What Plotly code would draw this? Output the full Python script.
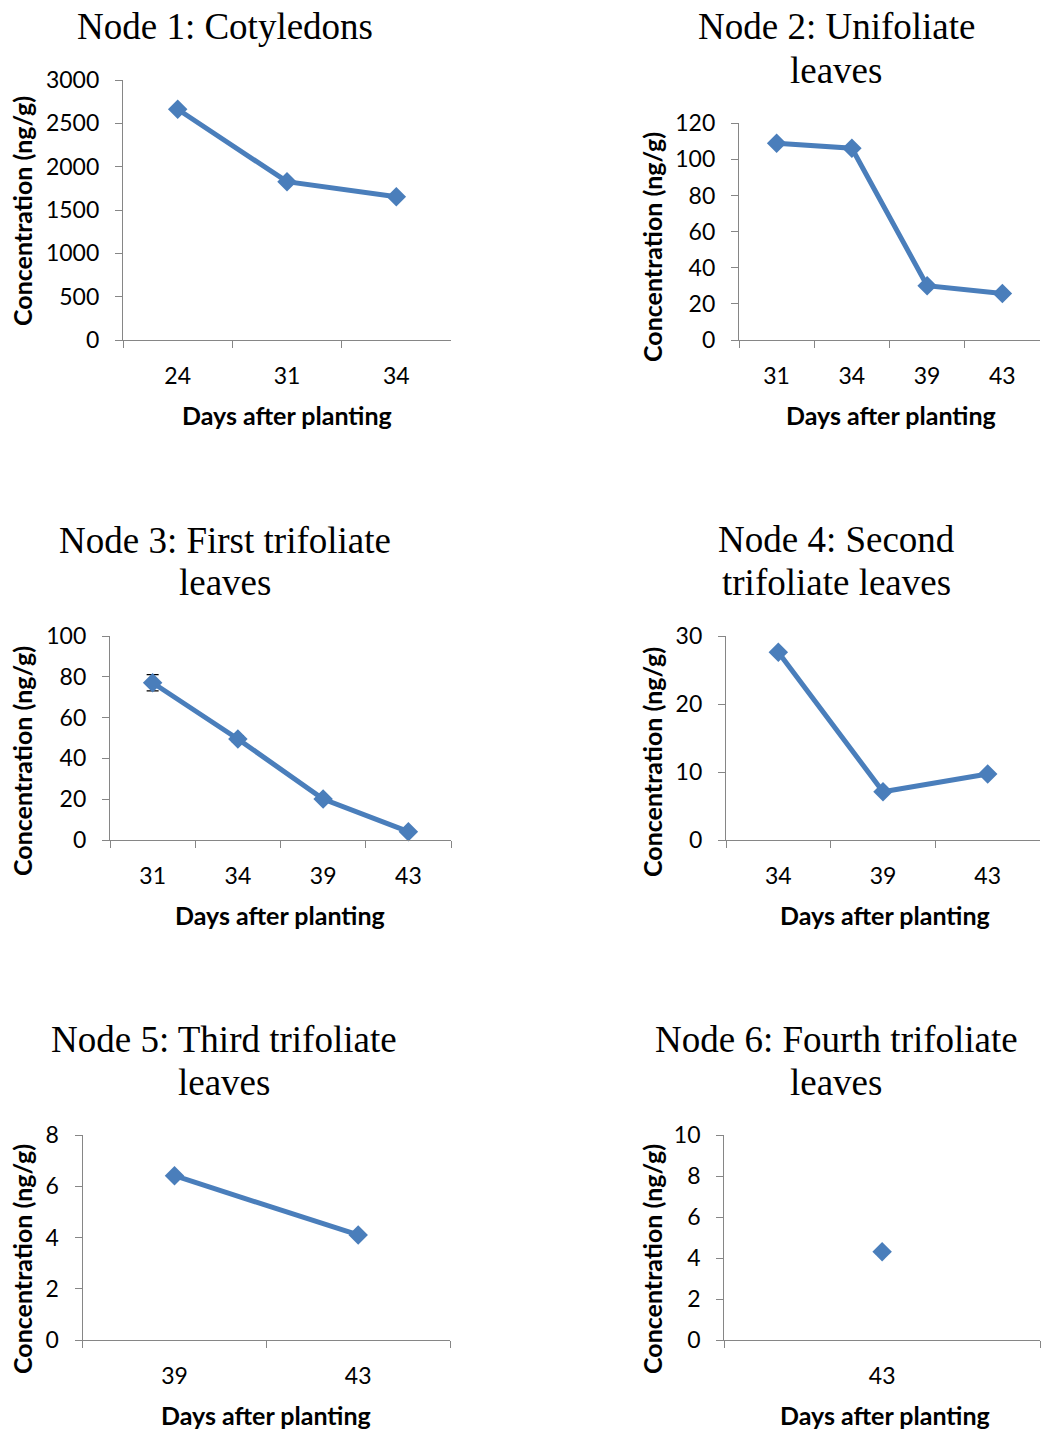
import plotly.graph_objects as go

# ---- data ----
node1_days = ["24", "31", "34"]
node1_conc = [2662, 1827, 1654]

node2_days = ["31", "34", "39", "43"]
node2_conc = [108.9, 106.2, 30.1, 25.8]

node3_days = ["31", "34", "39", "43"]
node3_conc = [77.1, 49.5, 20.1, 4.1]
node3_err = [4.0, 1.5, 0.5, 0.5]

node4_days = ["34", "39", "43"]
node4_conc = [27.6, 7.1, 9.7]

node5_days = ["39", "43"]
node5_conc = [6.41, 4.10]

node6_days = ["43"]
node6_conc = [4.31]

titles = [["Node 1: Cotyledons"], ["Node 2: Unifoliate", "leaves"],
          ["Node 3: First trifoliate", "leaves"], ["Node 4: Second", "trifoliate leaves"],
          ["Node 5: Third trifoliate", "leaves"], ["Node 6: Fourth trifoliate", "leaves"]]
y_max = [3000, 120, 100, 30, 8, 10]
y_dtick = [500, 20, 20, 10, 2, 2]
x_title = "Days after planting"
y_title = "Concentration (ng/g)"

series = [(node1_days, node1_conc, None), (node2_days, node2_conc, None),
          (node3_days, node3_conc, node3_err), (node4_days, node4_conc, None),
          (node5_days, node5_conc, None), (node6_days, node6_conc, None)]

# ---- figure size ----
W = 1041
REF_H = 1429
H = 1457          # figure height; the photo compresses vertically by about REF_H/H

def fx(px):
    return px / W

def fy(py):
    return 1 - py / REF_H

# ---- layout geometry (reference pixels) ----
areas = [(123, 451, 80, 340), (739, 1040, 123.3, 340),
         (110, 451, 636, 840), (726, 1040, 636, 840),
         (82.7, 450, 1135, 1340), (724.3, 1040, 1135, 1340)]
title_pos = [(225, [27]), (836, [27, 70]), (225, [540, 583]), (836, [539, 582]),
             (224, [1039, 1082]), (836, [1039, 1082])]
xt_pos = [(287, 415), (891, 415), (280, 915), (885, 915), (266, 1415), (885, 1415)]
yt_pos = [(22, 211), (652, 247), (22, 761), (652, 762), (22, 1259), (652, 1259)]

BLUE = "#4A7EBB"
AX = "#868686"
TICKFONT = dict(family="Lato, Carlito, Calibri, sans-serif", size=23, color="black")
BOLDFONT = dict(family="Lato, Carlito, Calibri, sans-serif", size=25, color="black", weight="bold")
TITLEFONT = dict(family="Liberation Serif, Times New Roman, serif", size=37, color="black")

fig = go.Figure()
annotations = []
layout = {}
for i, ((days, conc, err), (l, r, t, b)) in enumerate(zip(series, areas)):
    k = "" if i == 0 else str(i + 1)
    tr = dict(x=days, y=conc, mode="lines+markers",
              line=dict(color=BLUE, width=5),
              marker=dict(symbol="diamond", size=15, color=BLUE),
              xaxis="x" + k, yaxis="y" + k, showlegend=False,
              cliponaxis=False)
    if err is not None:
        tr["error_y"] = dict(type="data", array=err, visible=True,
                             color="black", thickness=1.2, width=6)
    fig.add_trace(go.Scatter(**tr))
    layout["xaxis" + k] = dict(
        domain=[fx(l), fx(r)], anchor="y" + k, type="category",
        range=[-0.5, len(days) - 0.5], tickson="boundaries",
        ticks="outside", ticklen=7, tickcolor=AX, tickwidth=1.3,
        showline=True, linecolor=AX, linewidth=1.3, showgrid=False,
        tickfont=TICKFONT, ticklabelstandoff=15, fixedrange=True)
    layout["yaxis" + k] = dict(
        domain=[fy(b), fy(t)], anchor="x" + k,
        range=[0, y_max[i]], dtick=y_dtick[i], tick0=0,
        ticks="outside", ticklen=7, tickcolor=AX, tickwidth=1.3,
        showline=True, linecolor=AX, linewidth=1.3, showgrid=False,
        zeroline=False, tickfont=TICKFONT, ticklabelstandoff=11, fixedrange=True)
    tx, tys = title_pos[i]
    for line, ty in zip(titles[i], tys):
        annotations.append(dict(text=line, x=fx(tx), y=fy(ty), xref="paper", yref="paper",
                                xanchor="center", yanchor="middle", showarrow=False, font=TITLEFONT))
    ax_, ay_ = xt_pos[i]
    annotations.append(dict(text=x_title, x=fx(ax_), y=fy(ay_), xref="paper", yref="paper",
                            xanchor="center", yanchor="middle", showarrow=False, font=BOLDFONT))
    bx, by = yt_pos[i]
    annotations.append(dict(text=y_title, x=fx(bx), y=fy(by), xref="paper", yref="paper",
                            xanchor="center", yanchor="middle", showarrow=False, textangle=-90,
                            font=BOLDFONT))

fig.update_layout(width=W, height=H, margin=dict(l=0, r=0, t=0, b=0),
                  paper_bgcolor="white", plot_bgcolor="white",
                  annotations=annotations, **layout)

fig.write_html("out.html", config={"displayModeBar": False},
               post_script="document.body.style.margin='0';document.body.style.padding='0';"
                           "document.documentElement.style.overflow='hidden';"
                           "var g=document.getElementById('{plot_id}');"
                           "g.style.position='fixed';g.style.top='-15px';g.style.left='0px';")
